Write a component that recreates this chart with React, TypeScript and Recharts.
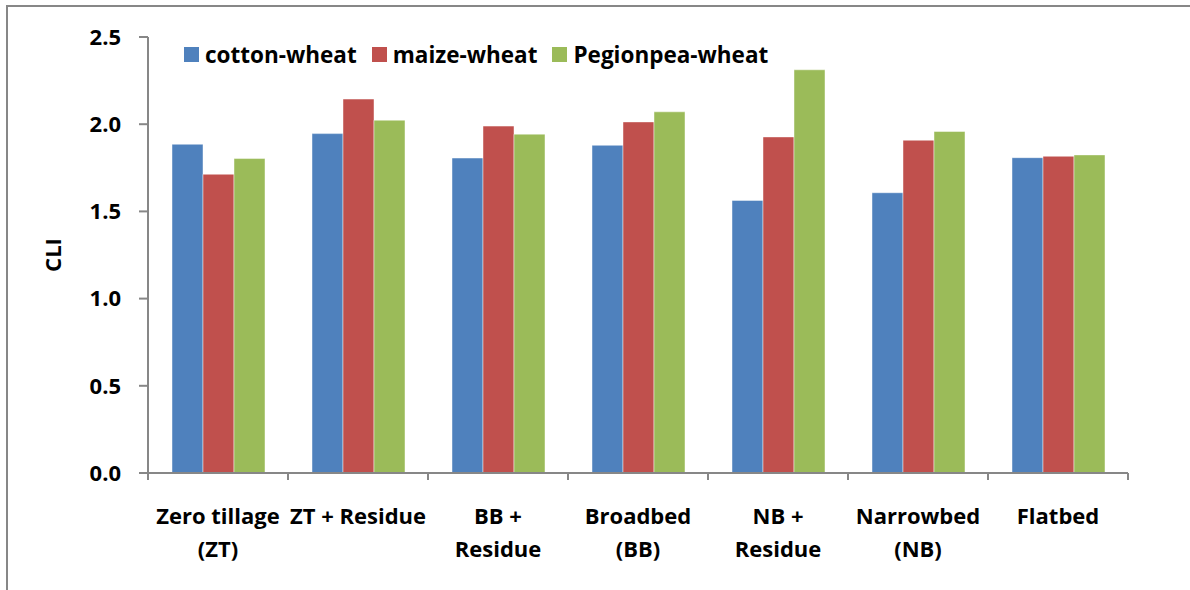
import React from "react"
import { BarChart, Bar, XAxis, YAxis, Legend } from "recharts"

// categories as drawn under the axis (one entry per line)
const categoryLines = [
  ["Zero tillage", "(ZT)"],
  ["ZT + Residue"],
  ["BB +", "Residue"],
  ["Broadbed", "(BB)"],
  ["NB +", "Residue"],
  ["Narrowbed", "(NB)"],
  ["Flatbed"],
]
const categories = categoryLines.map((l) => l.join(" "))

const seriesNames = ["cotton-wheat", "maize-wheat", "Pegionpea-wheat"]
const cottonWheat = [1.885, 1.946, 1.806, 1.879, 1.563, 1.607, 1.808]
const maizeWheat = [1.713, 2.144, 1.989, 2.013, 1.927, 1.908, 1.816]
const pigeonpeaWheat = [1.803, 2.023, 1.943, 2.071, 2.312, 1.958, 1.824]

const yTicks = [0, 0.5, 1.0, 1.5, 2.0, 2.5]

const data = categories.map((name, i) => ({
  name,
  cotton: cottonWheat[i],
  maize: maizeWheat[i],
  pigeonpea: pigeonpeaWheat[i],
}))

const AXIS = "#878787"
const FONT = "'Open Sans', sans-serif"

const CategoryTick = (props: any) => {
  const { x, y, payload, index, visibleTicksCount, width } = props
  const half = payload?.offset ?? width / visibleTicksCount / 2
  const lines = categoryLines[index] || [payload.value]
  return (
    <g>
      <line x1={x - half} x2={x - half} y1={y} y2={y + 7} stroke={AXIS} strokeWidth={2} />
      {index === visibleTicksCount - 1 && (
        <line x1={x + half} x2={x + half} y1={y} y2={y + 7} stroke={AXIS} strokeWidth={2} />
      )}
      <text x={x} y={y + 51} textAnchor="middle" fill="#000" fontSize={22} fontWeight={700} fontFamily={FONT}>
        {lines.map((l, i) => (
          <tspan key={i} x={x} dy={i === 0 ? 0 : 33}>
            {l}
          </tspan>
        ))}
      </text>
    </g>
  )
}

const LegendContent = (props: any) => {
  const items = [...(props.payload || [])].sort((a: any, b: any) => seriesNames.indexOf(a.value) - seriesNames.indexOf(b.value))
  return (
    <div style={{ display: "flex", alignItems: "center", fontFamily: FONT, fontWeight: 700, fontSize: 22.5, whiteSpace: "nowrap" }}>
      {items.map((p: any, i: number) => (
        <div key={i} style={{ display: "flex", alignItems: "center", marginRight: 15 }}>
          <span style={{ width: 15, height: 15, background: p.color, display: "inline-block", marginRight: 6 }} />
          <span style={{ color: "#000" }}>{p.value}</span>
        </div>
      ))}
    </div>
  )
}

export default function App() {
  return (
    <div style={{ position: "absolute", left: 0, top: 0, width: 1190, height: 590, background: "#fff", fontFamily: FONT }}>
      <div style={{ position: "absolute", left: 6, top: 5, right: 0, bottom: 0, borderTop: `2px solid ${AXIS}`, borderLeft: `2px solid ${AXIS}` }} />
      <BarChart
        width={1190}
        height={590}
        data={data}
        margin={{ top: 37, right: 62, bottom: 0, left: 0 }}
        barCategoryGap={24}
        barGap={0}
        style={{ position: "absolute", left: 0, top: 0 }}
      >
        <XAxis
          dataKey="name"
          height={117}
          interval={0}
          tickLine={false}
          tickSize={0}
          tickMargin={0}
          axisLine={{ stroke: AXIS, strokeWidth: 2 }}
          tick={<CategoryTick />}
        />
        <YAxis
          width={148}
          domain={[0, 2.5]}
          ticks={yTicks}
          interval={0}
          tickSize={9}
          tickMargin={18}
          tickFormatter={(v: number) => v.toFixed(1)}
          axisLine={{ stroke: AXIS, strokeWidth: 2 }}
          tickLine={{ stroke: AXIS, strokeWidth: 2 }}
          tick={{ fill: "#000", fontSize: 22, fontWeight: 700, fontFamily: FONT }}
          label={{
            content: ({ viewBox }: any) => {
              const cx = viewBox.x + 52
              const cy = viewBox.y + viewBox.height / 2
              return (
                <text
                  x={cx}
                  y={cy}
                  transform={`rotate(-90, ${cx}, ${cy})`}
                  textAnchor="middle"
                  dominantBaseline="central"
                  fontSize={22}
                  fontWeight={700}
                  fontFamily={FONT}
                  fill="#000"
                >
                  CLI
                </text>
              )
            },
          }}
        />
        <Legend
          verticalAlign="middle"
          layout="horizontal"
          wrapperStyle={{ top: 39, left: 184, width: "auto" }}
          content={<LegendContent />}
        />
        <Bar dataKey="cotton" name={seriesNames[0]} fill="#4F81BD" stroke="rgba(255,255,255,0.45)" strokeWidth={1} isAnimationActive={false} />
        <Bar dataKey="maize" name={seriesNames[1]} fill="#C0504D" stroke="rgba(255,255,255,0.45)" strokeWidth={1} isAnimationActive={false} />
        <Bar dataKey="pigeonpea" name={seriesNames[2]} fill="#9BBB59" stroke="rgba(255,255,255,0.45)" strokeWidth={1} isAnimationActive={false} />
      </BarChart>
    </div>
  )
}
